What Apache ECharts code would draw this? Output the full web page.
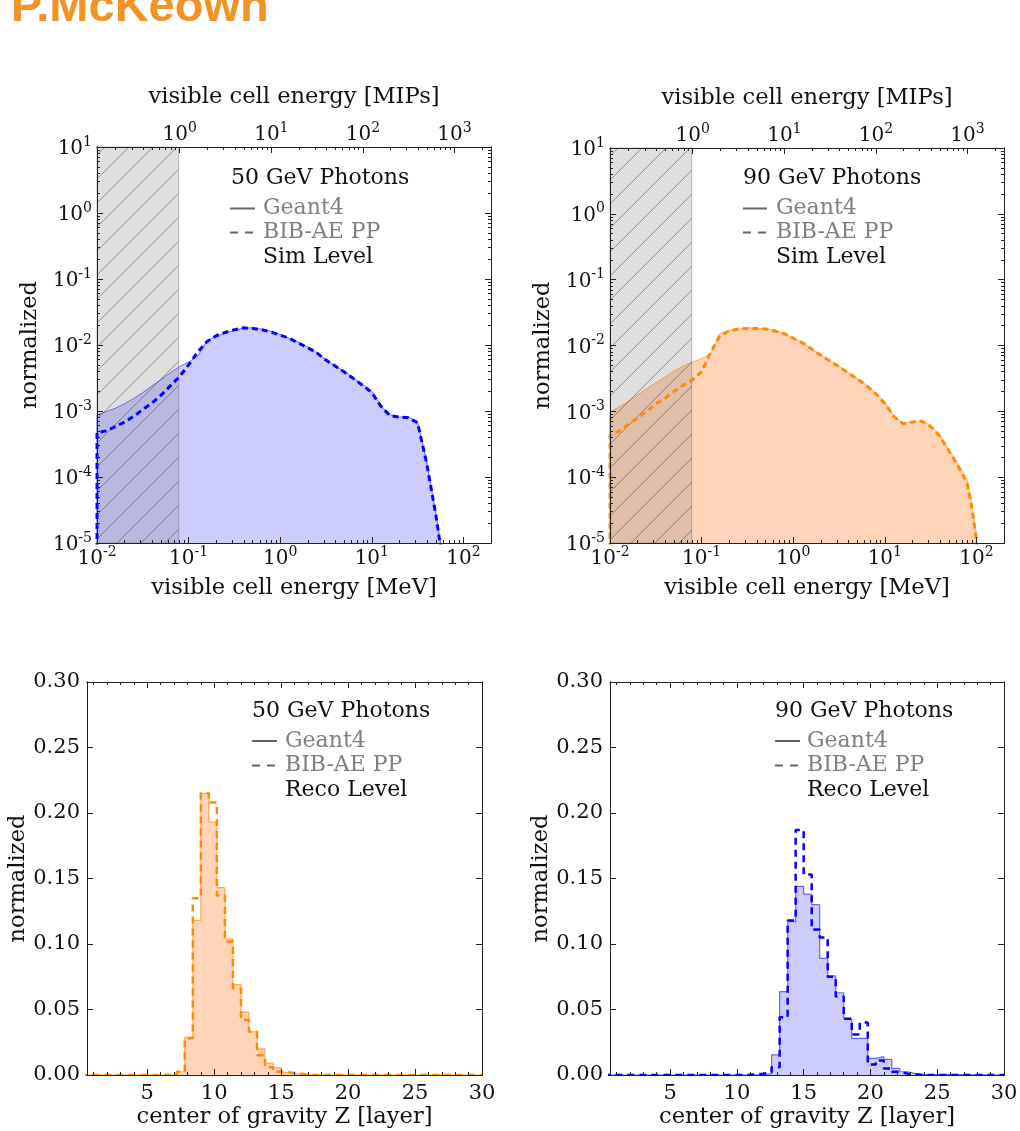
<!DOCTYPE html>
<html><head><meta charset="utf-8">
<script src="https://cdn.jsdelivr.net/npm/echarts@6/dist/echarts.min.js"></script>
<style>html,body{margin:0;padding:0;background:#fff}#c{width:1020px;height:1131px}</style>
</head><body><div id="c"></div>
<script>
// ---------------- DATA ----------------
// Sim level: visible cell energy [MeV] and normalized values
const simEnergy50 = [0.01, 0.0126, 0.0158, 0.02, 0.0251, 0.0316, 0.0398, 0.0501, 0.0631, 0.0794,
  0.1, 0.126, 0.158, 0.2, 0.251, 0.316, 0.398, 0.501, 0.631, 0.794,
  1.0, 1.26, 1.58, 2.0, 2.51, 3.16, 3.98, 5.01, 6.31, 7.94,
  10, 12.6, 15.8, 20, 25.1, 31.6, 39.8, 50.1, 56.2, 63.1];
const sim50Geant4 = [8.7e-4, 9.8e-4, 1.1e-3, 1.29e-3, 1.55e-3, 1.9e-3, 2.4e-3, 3.0e-3, 3.8e-3, 4.7e-3,
  5.5e-3, 6.8e-3, 1.15e-2, 1.35e-2, 1.51e-2, 1.66e-2, 1.82e-2, 1.82e-2, 1.74e-2, 1.62e-2,
  1.45e-2, 1.26e-2, 1.1e-2, 9.3e-3, 7.6e-3, 6.0e-3, 4.8e-3, 4.0e-3, 3.16e-3, 2.5e-3,
  2.0e-3, 1.2e-3, 8.7e-4, 8.1e-4, 8.1e-4, 6.9e-4, 1.66e-4, 2.8e-5, 1.0e-5, 3e-6];
const sim50BibAE = [4.7e-4, 5.0e-4, 5.8e-4, 6.8e-4, 8.3e-4, 1.05e-3, 1.32e-3, 1.74e-3, 2.4e-3, 3.3e-3,
  5.0e-3, 7.9e-3, 1.12e-2, 1.38e-2, 1.55e-2, 1.7e-2, 1.82e-2, 1.78e-2, 1.7e-2, 1.58e-2,
  1.41e-2, 1.26e-2, 1.07e-2, 9.1e-3, 7.6e-3, 5.9e-3, 4.8e-3, 3.9e-3, 3.1e-3, 2.45e-3,
  1.9e-3, 1.17e-3, 8.5e-4, 8.1e-4, 7.9e-4, 6.6e-4, 1.6e-4, 2.6e-5, 9e-6, 3e-6];
const simEnergy90 = [0.01, 0.0126, 0.0158, 0.02, 0.0251, 0.0316, 0.0398, 0.0501, 0.0631, 0.0794,
  0.1, 0.126, 0.158, 0.2, 0.251, 0.316, 0.398, 0.501, 0.631, 0.794,
  1.0, 1.26, 1.58, 2.0, 2.51, 3.16, 3.98, 5.01, 6.31, 7.94,
  10, 12.6, 15.8, 20, 25.1, 31.6, 39.8, 50.1, 63.1, 79.4, 89.1, 100, 104.7];
const sim90Geant4 = [9.8e-4, 1.17e-3, 1.41e-3, 1.78e-3, 2.2e-3, 2.7e-3, 3.3e-3, 4.1e-3, 4.9e-3, 5.6e-3,
  6.3e-3, 7.6e-3, 1.51e-2, 1.7e-2, 1.78e-2, 1.86e-2, 1.82e-2, 1.78e-2, 1.7e-2, 1.51e-2,
  1.32e-2, 1.1e-2, 8.9e-3, 7.2e-3, 5.9e-3, 4.9e-3, 3.9e-3, 3.16e-3, 2.5e-3, 1.9e-3,
  1.38e-3, 8.5e-4, 6.6e-4, 6.9e-4, 7.2e-4, 6.2e-4, 4.4e-4, 2.6e-4, 1.58e-4, 8.9e-5,
  4.0e-5, 1.26e-5, 3e-6];
const sim90BibAE = [4.4e-4, 5.0e-4, 6.3e-4, 7.9e-4, 1.0e-3, 1.29e-3, 1.58e-3, 2.0e-3, 2.5e-3, 3.0e-3,
  4.0e-3, 7.9e-3, 1.41e-2, 1.66e-2, 1.78e-2, 1.82e-2, 1.82e-2, 1.78e-2, 1.66e-2, 1.51e-2,
  1.29e-2, 1.1e-2, 8.9e-3, 7.1e-3, 5.8e-3, 4.8e-3, 3.8e-3, 3.1e-3, 2.45e-3, 1.86e-3,
  1.32e-3, 8.3e-4, 6.5e-4, 6.9e-4, 7.1e-4, 5.9e-4, 4.2e-4, 2.5e-4, 1.48e-4, 7.9e-5,
  3.5e-5, 1.1e-5, 3e-6];
const energyRangeMeV = [0.01, 200];
const mipInMeV = 0.08;
const mipThresholdMeV = 0.078;

// Reco level: center of gravity Z histogram (bin edges, values per bin)
const cogBinEdges = [0, 6.0, 6.6, 7.2, 7.8, 8.4, 9.0, 9.6, 10.2, 10.8, 11.4, 12.0, 12.6, 13.2, 13.8,
  14.4, 15.0, 15.6, 16.2, 16.8, 17.4, 18.0, 18.6, 19.2, 19.8, 20.4, 21.0, 21.6, 22.2, 22.8, 23.4, 24.0, 30];
const reco50Geant4 = [0, 0, 0, 0.0025, 0.029, 0.118, 0.215, 0.193, 0.143, 0.104, 0.069, 0.048, 0.033, 0.020,
  0.009, 0.0056, 0.002, 0.001, 0.0005, 0, 0, 0, 0, 0, 0, 0, 0, 0, 0, 0, 0, 0];
const reco50BibAE = [0, 0, 0, 0.0025, 0.028, 0.135, 0.215, 0.208, 0.137, 0.102, 0.066, 0.042, 0.033, 0.015,
  0.006, 0.0025, 0.002, 0.0015, 0.0005, 0, 0, 0, 0, 0, 0, 0, 0, 0, 0, 0, 0, 0];
const reco90Geant4 = [0, 0, 0, 0, 0, 0, 0, 0, 0, 0, 0.0005, 0.001, 0.0153, 0.0636, 0.117, 0.144, 0.138, 0.130,
  0.089, 0.0756, 0.0628, 0.043, 0.028, 0.028, 0.0127, 0.014, 0.012, 0.005, 0.0025, 0.001, 0.0005, 0];
const reco90BibAE = [0, 0, 0, 0, 0, 0, 0, 0, 0, 0.0005, 0.001, 0.002, 0.006, 0.044, 0.118, 0.187, 0.153, 0.111,
  0.105, 0.075, 0.060, 0.043, 0.031, 0.040, 0.008, 0.011, 0.005, 0.0025, 0.001, 0.0005, 0, 0];
const cogRange = [0.5, 30];

// Tick labels
const energyTickExpMeV = [-2, -1, 0, 1, 2];
const energyTickExpMIP = [0, 1, 2, 3];
const normTickExp = [-5, -4, -3, -2, -1, 0, 1];
const cogTicks = [5, 10, 15, 20, 25, 30];
const recoNormTicks = [0, 0.05, 0.10, 0.15, 0.20, 0.25, 0.30];

// ---------------- BUILD ----------------
const FONT = 'DejaVu Serif';
const AX = '#222';
const BLUE = '#0000ff', ORANGE = '#ff8c00';
const FILL_BLUE = 'rgba(0,0,255,0.2)', FILL_ORANGE = 'rgba(255,100,0,0.28)';
const EDGE_BLUE = 'rgba(0,0,255,0.55)', EDGE_ORANGE = 'rgba(255,130,0,0.6)';
const NAME_SIZE = 22.6;

function supLabel(v) { const n = Math.round(v); return '{b|10}{s|' + (n < 0 ? '-' + (-n) : n) + '}'; }
const supRich = {
  b: {fontSize: 20, fontFamily: FONT, color: '#111', lineHeight: 24, verticalAlign: 'bottom'},
  s: {fontSize: 14, fontFamily: FONT, color: '#111', lineHeight: 12, verticalAlign: 'top'}
};
function logMinor(lo, hi) {
  const out = [];
  for (let n = Math.floor(lo) - 1; n <= Math.ceil(hi); n++)
    for (let k = 2; k <= 9; k++) { const v = n + Math.log10(k); if (v > lo + 1e-9 && v < hi - 1e-9) out.push(v); }
  return out;
}
function mkAxis(grid, pos, min, max, ticks, len, lbl) {
  const a = {type: 'value', gridIndex: grid, position: pos, min: min, max: max, z: 10,
    axisLine: {show: true, onZero: false, lineStyle: {color: AX, width: 1}},
    axisTick: {show: ticks.length > 0, inside: true, length: len, customValues: ticks.length ? ticks : undefined,
      lineStyle: {color: AX, width: 1}},
    axisLabel: {show: false}, splitLine: {show: false}, minorTick: {show: false}, axisPointer: {show: false}};
  if (lbl) {
    a.axisLabel = {show: true, customValues: lbl.values, color: '#111', fontFamily: FONT, fontSize: 21,
      margin: lbl.margin, formatter: lbl.fmt};
    if (lbl.rich) a.axisLabel.rich = lbl.rich;
    if (lbl.name) {
      a.name = lbl.name; a.nameLocation = 'middle'; a.nameGap = lbl.gap;
      a.nameTextStyle = {fontFamily: FONT, fontSize: NAME_SIZE, color: '#111'};
    }
  }
  return a;
}

const grids = [
  {left: 97, top: 147, width: 394, height: 396},
  {left: 610, top: 148, width: 394, height: 395},
  {left: 87, top: 682, width: 395, height: 393},
  {left: 610, top: 682, width: 394, height: 393}
].map(g => Object.assign({outerBoundsMode: 'none', containLabel: false}, g));

const xAxes = [], yAxes = [], series = [], graphics = [];
const xLo = Math.log10(energyRangeMeV[0]), xHi = Math.log10(energyRangeMeV[1]);
const tLo = Math.log10(energyRangeMeV[0] / mipInMeV), tHi = Math.log10(energyRangeMeV[1] / mipInMeV);

function logAxes(g) {
  xAxes.push(mkAxis(g, 'bottom', xLo, xHi, energyTickExpMeV, 6,
    {values: energyTickExpMeV, fmt: supLabel, rich: supRich, margin: 2, name: 'visible cell energy [MeV]', gap: 34}));
  xAxes.push(mkAxis(g, 'bottom', xLo, xHi, logMinor(xLo, xHi), 3));
  xAxes.push(mkAxis(g, 'top', tLo, tHi, energyTickExpMIP, 6,
    {values: energyTickExpMIP, fmt: supLabel, rich: supRich, margin: 2, name: 'visible cell energy [MIPs]', gap: 38}));
  xAxes.push(mkAxis(g, 'top', tLo, tHi, logMinor(tLo, tHi), 3));
  yAxes.push(mkAxis(g, 'left', -5, 1, normTickExp, 6,
    {values: normTickExp, fmt: supLabel, rich: supRich, margin: 5, name: 'normalized', gap: 55}));
  yAxes.push(mkAxis(g, 'left', -5, 1, logMinor(-5, 1), 3));
  yAxes.push(mkAxis(g, 'right', -5, 1, normTickExp, 6));
  yAxes.push(mkAxis(g, 'right', -5, 1, logMinor(-5, 1), 3));
}
const cogMinor = [];
for (let i = 1; i < 30; i++) if (i % 5) cogMinor.push(i);
function linAxes(g) {
  xAxes.push(mkAxis(g, 'bottom', cogRange[0], cogRange[1], cogTicks, 6,
    {values: cogTicks, fmt: v => String(v), margin: 8, name: 'center of gravity Z [layer]', gap: 31}));
  xAxes.push(mkAxis(g, 'bottom', cogRange[0], cogRange[1], cogMinor, 3));
  xAxes.push(mkAxis(g, 'top', cogRange[0], cogRange[1], cogTicks, 6));
  xAxes.push(mkAxis(g, 'top', cogRange[0], cogRange[1], cogMinor, 3));
  yAxes.push(mkAxis(g, 'left', 0, 0.3, recoNormTicks, 6,
    {values: recoNormTicks, fmt: v => v.toFixed(2), margin: 7, name: 'normalized', gap: 57}));
  yAxes.push(mkAxis(g, 'left', 0, 0.3, [], 3));
  yAxes.push(mkAxis(g, 'right', 0, 0.3, recoNormTicks, 6));
  yAxes.push(mkAxis(g, 'right', 0, 0.3, [], 3));
}

const FLOOR = -6;
function logPoints(E, V) {
  return [[Math.log10(E[0]), FLOOR]].concat(E.map((e, i) => [Math.log10(e), Math.log10(V[i])]));
}
function bandRender(params, api) {
  const cs = params.coordSys;
  const x0 = api.coord([api.value(0), 0])[0];
  const x1 = api.coord([api.value(1), 0])[0];
  const y0 = cs.y, y1 = cs.y + cs.height;
  const children = [{type: 'rect', shape: {x: x0, y: y0, width: x1 - x0, height: y1 - y0},
    style: {fill: 'rgba(128,128,128,0.25)', stroke: 'rgba(110,110,110,0.45)', lineWidth: 1}}];
  const step = 24;
  for (let c = x0 + y0 + 8; c < x1 + y1; c += step) {
    const xa = Math.max(x0, c - y1), xb = Math.min(x1, c - y0);
    if (xb > xa) children.push({type: 'line', shape: {x1: xa, y1: c - xa, x2: xb, y2: c - xb},
      style: {stroke: 'rgba(50,50,50,0.45)', lineWidth: 1}});
  }
  return {type: 'group', children: children};
}
function simSeries(g, E, geant, bib, col, fill, edge) {
  const xi = 4 * g, yi = 4 * g;
  series.push({type: 'line', name: 'Geant4', xAxisIndex: xi, yAxisIndex: yi, data: logPoints(E, geant),
    symbol: 'none', clip: true, z: 2, lineStyle: {color: edge, width: 1},
    areaStyle: {color: fill, origin: 'start', opacity: 1}, silent: true});
  series.push({type: 'custom', xAxisIndex: xi, yAxisIndex: yi, z: 3, silent: true,
    data: [[Math.log10(energyRangeMeV[0]), Math.log10(mipThresholdMeV)]], renderItem: bandRender});
  series.push({type: 'line', name: 'BIB-AE PP', xAxisIndex: xi, yAxisIndex: yi, data: logPoints(E, bib),
    symbol: 'none', clip: true, z: 4, lineStyle: {color: col, width: 3, type: [6, 4]}, silent: true});
}
function histData(vals) { return cogBinEdges.map((e, i) => [e, i < vals.length ? vals[i] : 0]); }
function recoSeries(g, geant, bib, col, fill, edge) {
  const xi = 4 * g, yi = 4 * g;
  series.push({type: 'line', name: 'Geant4', xAxisIndex: xi, yAxisIndex: yi, data: histData(geant), step: 'end',
    symbol: 'none', clip: true, z: 2, lineStyle: {color: edge, width: 1.2},
    areaStyle: {color: fill, origin: 'start', opacity: 1}, silent: true});
  series.push({type: 'line', name: 'BIB-AE PP', xAxisIndex: xi, yAxisIndex: yi, data: histData(bib), step: 'end',
    symbol: 'none', clip: true, z: 4, lineStyle: {color: col, width: 2.5, type: [7, 5]}, silent: true});
}

logAxes(0); logAxes(1); linAxes(2); linAxes(3);
simSeries(0, simEnergy50, sim50Geant4, sim50BibAE, BLUE, FILL_BLUE, EDGE_BLUE);
simSeries(1, simEnergy90, sim90Geant4, sim90BibAE, ORANGE, FILL_ORANGE, EDGE_ORANGE);
recoSeries(2, reco50Geant4, reco50BibAE, ORANGE, FILL_ORANGE, EDGE_ORANGE);
recoSeries(3, reco90Geant4, reco90BibAE, BLUE, FILL_BLUE, EDGE_BLUE);

// annotations (legend-like text blocks)
const TXT_FONT = '22px "DejaVu Serif"';
function txt(x, y, s, color) {
  return {type: 'text', x: x, y: y, z: 20, silent: true,
    style: {text: s, font: TXT_FONT, fill: color, align: 'left', verticalAlign: 'middle',
      textAlign: 'left', textVerticalAlign: 'middle'}};
}
function sample(x0, x1, y, dashed) {
  return {type: 'line', z: 20, silent: true, shape: {x1: x0, y1: y, x2: x1, y2: y},
    style: {stroke: '#666', lineWidth: 2, lineDash: dashed ? [8, 7] : null}};
}
function annot(titleX, title, level, lx0, lx1, tx, ys) {
  graphics.push(txt(titleX, ys[0], title, '#111'));
  graphics.push(sample(lx0, lx1, ys[1], false));
  graphics.push(txt(tx, ys[1], 'Geant4', '#808080'));
  graphics.push(sample(lx0, lx1, ys[2], true));
  graphics.push(txt(tx, ys[2], 'BIB-AE PP', '#808080'));
  graphics.push(txt(tx, ys[3], level, '#111'));
}
annot(231, '50 GeV Photons', 'Sim Level', 230, 255, 263, [178.5, 208.5, 232.5, 257]);
annot(743, '90 GeV Photons', 'Sim Level', 743, 767, 776, [178.5, 208.5, 232.5, 257]);
annot(252, '50 GeV Photons', 'Reco Level', 252, 277, 285, [711.5, 741, 765.5, 790]);
annot(775, '90 GeV Photons', 'Reco Level', 775, 800, 807, [711.5, 741, 765.5, 790]);
graphics.push({type: 'text', x: 11, y: -15, z: 20, silent: true,
  style: {text: 'P.McKeown', font: 'bold 47px "Liberation Sans"', fill: '#F39325',
    align: 'left', verticalAlign: 'top', textAlign: 'left', textVerticalAlign: 'top'}});

const chart = echarts.init(document.getElementById('c'), null, {renderer: 'canvas'});
chart.setOption({
  backgroundColor: '#ffffff', animation: false,
  grid: grids, xAxis: xAxes, yAxis: yAxes, series: series, graphic: graphics
});
</script></body></html>
